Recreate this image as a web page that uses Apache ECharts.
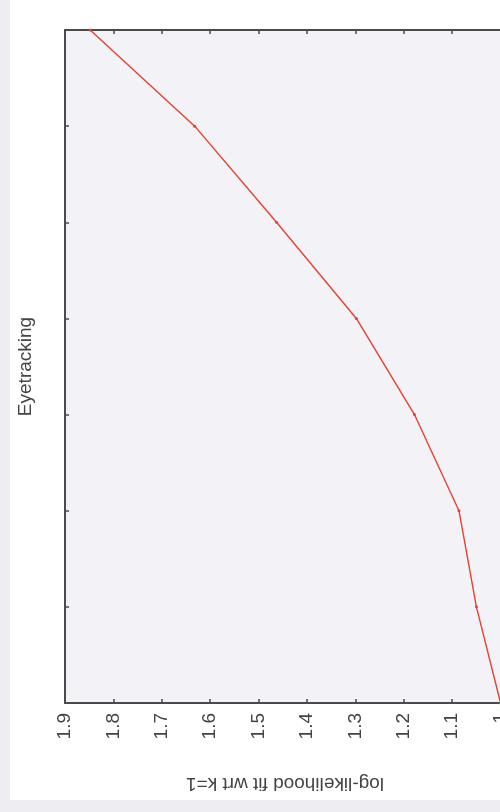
<!DOCTYPE html>
<html>
<head>
<meta charset="utf-8">
<script src="https://cdn.jsdelivr.net/npm/echarts@6/dist/echarts.min.js"></script>
<style>
  html, body { margin: 0; padding: 0; background: #eeedf2; overflow: hidden; width: 500px; height: 812px; }
  #panel { position: absolute; left: 10px; top: 0; width: 490px; height: 800px; background: #ffffff; }
  #chart { position: absolute; left: 0; top: 0; width: 600px; height: 812px; }
</style>
</head>
<body>
<div id="panel"></div>
<div id="chart"></div>
<script>
// Number of clusters k (vertical axis) and the log-likelihood fit relative to k = 1
const kValues = [1, 2, 3, 4, 5, 6, 7, 8];
const fitValues = [1.0, 1.05, 1.086, 1.178, 1.298, 1.463, 1.632, 1.848];

// Tick values along the fit axis
const fitMin = 0.9;
const fitMax = 1.9;
const fitStep = 0.1;

const axisTitle = 'log-likelihood fit wrt k=1';
const datasetName = 'Eyetracking';

const chart = echarts.init(document.getElementById('chart'), null, { renderer: 'canvas' });

const frameColor = '#4a4a4a';
const textColor = '#444444';
const fontFamily = 'Liberation Sans, Arial, sans-serif';

const points = kValues.map((k, i) => [fitValues[i], k]);

chart.setOption({
  backgroundColor: 'transparent',
  animation: false,
  grid: {
    left: 65, top: 30, width: 484, height: 673,
    outerBoundsMode: 'none',
    show: true, backgroundColor: '#f3f2f6', borderWidth: 0
  },
  xAxis: [
    {
      type: 'value', position: 'bottom', inverse: true,
      min: fitMin, max: fitMax, interval: fitStep,
      axisLine: { show: true, lineStyle: { color: frameColor, width: 2 } },
      axisTick: { show: true, inside: true, length: 4, lineStyle: { color: frameColor, width: 1.5 } },
      axisLabel: {
        show: true, rotate: 90, margin: 10,
        color: textColor, fontSize: 19, fontFamily: fontFamily
      },
      splitLine: { show: false }
    },
    {
      type: 'value', position: 'top', inverse: true,
      min: fitMin, max: fitMax, interval: fitStep,
      axisLine: { show: true, onZero: false, lineStyle: { color: frameColor, width: 2 } },
      axisTick: { show: true, inside: true, length: 4, lineStyle: { color: frameColor, width: 1.5 } },
      axisLabel: { show: false },
      splitLine: { show: false }
    }
  ],
  yAxis: {
    type: 'value', min: 1, max: 8, interval: 1,
    name: datasetName, nameLocation: 'middle', nameGap: 30, nameRotate: 90,
    nameTextStyle: { color: textColor, fontSize: 19, fontFamily: fontFamily },
    axisLine: { show: true, onZero: false, lineStyle: { color: frameColor, width: 2 } },
    axisTick: { show: true, inside: true, length: 4, lineStyle: { color: frameColor, width: 1.5 } },
    axisLabel: { show: false },
    splitLine: { show: false }
  },
  series: [{
    type: 'line',
    data: points,
    xAxisIndex: 0,
    symbol: 'circle',
    symbolSize: 3,
    clip: true,
    lineStyle: { color: '#e8412f', width: 1.4 },
    itemStyle: { color: '#e8412f' }
  }],
  graphic: [{
    type: 'text',
    x: 285, y: 783,
    rotation: Math.PI,
    style: {
      text: axisTitle,
      fill: textColor,
      font: '19px ' + fontFamily,
      align: 'center',
      verticalAlign: 'middle'
    }
  }]
});
</script>
</body>
</html>
